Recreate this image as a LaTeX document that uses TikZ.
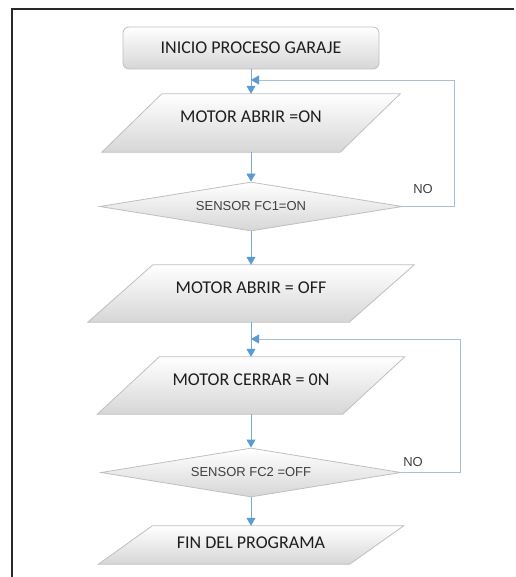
\documentclass[tikz,border=0pt]{standalone}
\usepackage{fontspec}
\setmainfont{Carlito}
\newfontfamily\arialfont{Liberation Sans}
\usetikzlibrary{shapes.geometric,arrows.meta,backgrounds}

\definecolor{flowblue}{HTML}{5B9BD5}
\definecolor{linkblue}{HTML}{7FA7D4}
\definecolor{loopblue}{HTML}{A9BFD6}
\definecolor{edgegray}{HTML}{BFBFBF}
\definecolor{shadegray}{HTML}{D6D6D6}
\definecolor{txtdark}{HTML}{1E1E1E}
\definecolor{txtgray}{HTML}{404040}
\definecolor{framegray}{HTML}{2A2A2A}

% parallelogram drawn around a named text node: #1 node, #2 half of the slant
\newcommand\paraframe[2]{%
  \path[parashape] ([xshift=-#2]#1.south west) -- ([xshift=-#2]#1.south east)
    -- ([xshift=#2]#1.north east) -- ([xshift=#2]#1.north west) -- cycle;}

\begin{document}
\begin{tikzpicture}[x=1pt,y=-1pt,
  startbox/.style={rectangle, rounded corners=6pt, draw=edgegray, line width=0.8pt,
    top color=white, bottom color=shadegray, minimum width=256pt, minimum height=42pt,
    inner sep=0pt, font=\fontsize{18}{21}\selectfont, text=txtdark},
  proctext/.style={rectangle, inner sep=0pt, font=\fontsize{18}{21}\selectfont, text=txtdark},
  parashape/.style={draw=edgegray, line width=0.8pt, top color=white, bottom color=shadegray},
  decide/.style={diamond, aspect=6, inner sep=0pt, draw=edgegray, line width=0.8pt,
    top color=white, bottom color=shadegray, minimum width=303pt, minimum height=49pt,
    font=\arialfont\fontsize{13}{15}\selectfont, text=txtgray},
  nolabel/.style={font=\arialfont\fontsize{13}{15}\selectfont, text=txtgray, inner sep=0pt},
  tip/.style={-{Triangle[length=8pt,width=9pt,color=flowblue]}},
  flow/.style={draw=linkblue, line width=0.8pt, tip},
  loopline/.style={draw=loopblue, line width=0.8pt, tip},
]
\useasboundingbox (0,0) rectangle (515,577);

% page frame
\draw[framegray, line width=1.2pt] (12,577) -- (12,9) -- (514,9);

% steps of the flowchart
\node[startbox] (start) at (251,48) {INICIO PROCESO GARAJE};
\node[proctext, minimum width=238pt, minimum height=58pt, text depth=12pt] (p1) at (251,123) {MOTOR ABRIR =ON};
\node[decide] (d1) at (251,206.5) {SENSOR FC1=ON};
\node[proctext, minimum width=261pt, minimum height=57pt, text depth=12pt] (p2) at (251,293.5) {MOTOR ABRIR = OFF};
\node[proctext, minimum width=245pt, minimum height=57pt, text depth=12pt] (p3) at (251,385.5) {MOTOR CERRAR = 0N};
\node[decide, minimum width=300pt] (d2) at (251,472.5) {SENSOR FC2 =OFF};
\node[proctext, minimum width=251pt, minimum height=38pt, text depth=4pt] (p4) at (251,545) {FIN DEL PROGRAMA};

\begin{scope}[on background layer]
  \paraframe{p1}{30pt}
  \paraframe{p2}{32.5pt}
  \paraframe{p3}{31pt}
  \paraframe{p4}{27pt}
\end{scope}

% labels of the return branches
\node[nolabel] (no1) at (423,189) {NO};
\node[nolabel] (no2) at (413,462) {NO};

% joints where the return branches meet the main line
\coordinate (j1) at (251,80);
\coordinate (r1) at (454,80);
\coordinate (j2) at (251,339);
\coordinate (r2) at (460,339);

% main flow
\draw[flow] (start.south) -- (p1.north);
\draw[flow] (p1.south) -- (d1.north);
\draw[flow] (d1.south) -- (p2.north);
\draw[flow] (p2.south) -- (p3.north);
\draw[flow] (p3.south) -- (d2.north);
\draw[flow] (d2.south) -- (p4.north);

% return branches
\draw[loopline] (d1.east) -| (r1) -- (j1);
\draw[loopline] (d2.east) -| (r2) -- (j2);
\end{tikzpicture}
\end{document}
